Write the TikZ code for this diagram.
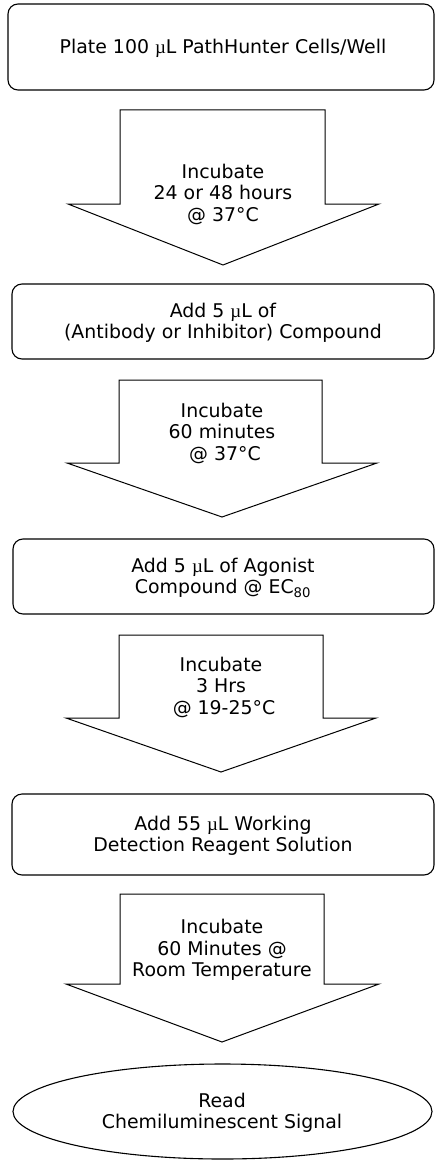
\documentclass[tikz,border=0pt]{standalone}
\usepackage{fontspec}
\setmainfont{DejaVu Sans}
\newfontfamily\mufont{Liberation Serif}
\usetikzlibrary{shapes.geometric}
\newcommand{\uL}{{\mufont µ}L}
\begin{document}
\begin{tikzpicture}[x=1pt,y=-1pt,
  every node/.style={font=\fontsize{18.9}{21.5}\selectfont, align=center, inner sep=0pt},
  stepbox/.style={draw=black, line width=1.1pt, rounded corners=10pt},
  flowarrow/.style={draw=black, line width=1pt},
  readoval/.style={draw=black, line width=1.1pt, ellipse, minimum width=419pt, minimum height=95pt}]
\useasboundingbox (0,0) rectangle (435,1161);
% boxes
\draw[stepbox] (8,4) rectangle (434,90);
\node (b1) at (223,48) {Plate 100 \uL{} PathHunter Cells/Well};
\draw[stepbox] (12,284) rectangle (434,359);
\node (b2) at (223,323) {Add 5 \uL{} of\\(Antibody or Inhibitor) Compound};
\draw[stepbox] (13,539) rectangle (434,614);
\node (b3) at (223,578) {Add 5 \uL{} of Agonist\\Compound @ EC\textsubscript{80}};
\draw[stepbox] (12,794) rectangle (434,875);
\node (b4) at (223,836) {Add 55 \uL{} Working\\Detection Reagent Solution};
% arrows
\draw[flowarrow] (120,110) -- (325,110) -- (325,204) -- (379,204) -- (223,265) -- (68,204) -- (120,204) -- cycle;
\node (a1) at (223,194) {Incubate\\24 or 48 hours\\@ 37°C};
\draw[flowarrow] (119,380) -- (322,380) -- (322,463) -- (377,463) -- (222,517) -- (67,463) -- (119,463) -- cycle;
\node (a2) at (222,433) {Incubate\\60 minutes\\\hspace*{6pt}@ 37°C};
\draw[flowarrow] (119,635) -- (323,635) -- (323,718) -- (376,718) -- (221,772) -- (66,718) -- (119,718) -- cycle;
\node (a3) at (221,687) {Incubate\\3 Hrs\\\hspace*{6pt}@ 19-25°C};
\draw[flowarrow] (120,894) -- (324,894) -- (324,984) -- (379,984) -- (222,1042) -- (66,984) -- (120,984) -- cycle;
\node (a4) at (222,950) {Incubate\\60 Minutes @\\Room Temperature};
% final
\node[readoval] (r) at (222.5,1111.5) {};
\node (rt) at (222,1113) {Read\\Chemiluminescent Signal};
\end{tikzpicture}
\end{document}
